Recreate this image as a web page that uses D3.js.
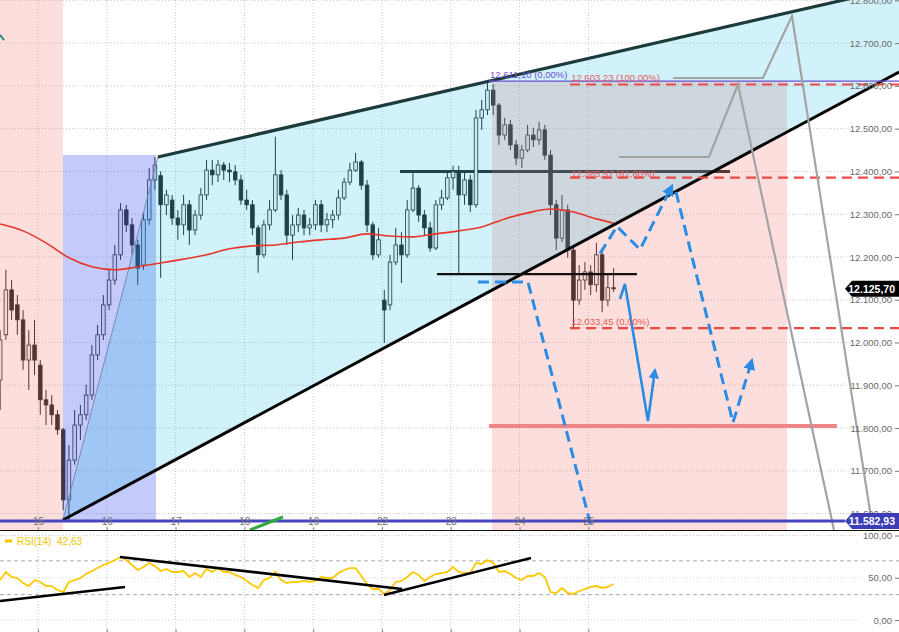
<!DOCTYPE html>
<html><head><meta charset="utf-8">
<script src="https://cdn.jsdelivr.net/npm/d3@7"></script>
<style>
body{margin:0;background:#fff;}
svg{display:block;font-family:"Liberation Sans",Arial,sans-serif;}
</style>
</head><body>
<svg id="c" width="899" height="632"></svg>
<script>
// ---------------- DATA ----------------
const dayLabels = ["15","16","17","18","19","22","23","24","25"];
const barStart = -0.55, barsPerDay = 12;
const open = [11912,12018,12123,12088,12053,11959,11994,11947,11866,11854,
11831,11796,11632,11725,11807,11831,11877,11971,12018,12088,
12146,12205,12310,12275,12228,12181,12287,12380,12390,12322,
12333,12291,12275,12322,12263,12298,12345,12403,12392,12415,
12403,12399,12380,12333,12322,12268,12205,12275,12310,12392,
12345,12251,12275,12298,12268,12275,12322,12275,12287,12298,
12338,12375,12403,12422,12368,12275,12205,12099,12088,12188,
12228,12205,12310,12361,12298,12268,12221,12322,12338,12385,
12399,12345,12380,12322,12525,12544,12590,12555,12485,12509,
12462,12431,12450,12485,12474,12497,12438,12322,12244,12310,
12216,12099,12146,12165,12135,12205,12099,12128];
const high = [12029,12170,12146,12111,12076,12029,12053,11959,11889,11877,
11842,11800,11760,11842,11854,11901,11994,12041,12111,12170,
12228,12326,12322,12291,12240,12303,12408,12434,12400,12357,
12345,12310,12345,12333,12310,12361,12427,12427,12427,12422,
12420,12415,12392,12357,12333,12275,12287,12333,12481,12403,
12357,12298,12315,12310,12291,12333,12333,12303,12310,12357,
12385,12420,12443,12427,12380,12282,12268,12123,12205,12268,
12258,12333,12396,12368,12310,12282,12333,12357,12403,12413,
12413,12399,12392,12544,12567,12611.1,12604,12560,12525,12520,
12474,12462,12509,12502,12516,12509,12450,12333,12345,12322,
12221,12181,12188,12181,12233,12212,12158,12174];
const low = [11842,12006,12053,12018,11936,11889,11924,11831,11807,11807,
11784,11608,11582.93,11714,11772,11819,11866,11959,12006,12076,
12135,12193,12258,12205,12135,12170,12275,12357,12151,12298,
12275,12240,12251,12228,12251,12287,12333,12368,12375,12380,
12375,12368,12322,12310,12251,12163,12198,12263,12305,12333,
12228,12193,12258,12251,12251,12263,12258,12258,12268,12287,
12333,12368,12399,12357,12258,12193,12198,11999,12076,12181,
12139,12198,12305,12282,12251,12212,12216,12310,12333,12357,
12160,12322,12305,12315,12497,12532,12532,12462,12474,12450,
12415,12408,12445,12457,12462,12427,12298,12216,12235,12198,
12033.45,12088,12123,12111,12118,12071,12085,12118];
const close = [12006,12123,12076,12053,11959,11994,11959,11866,11854,11831,
11796,11632,11725,11807,11831,11877,11971,12018,12088,12146,
12205,12310,12275,12228,12174,12287,12380,12415,12322,12345,
12291,12275,12322,12263,12298,12345,12403,12392,12415,12403,
12399,12380,12333,12322,12268,12205,12275,12310,12392,12345,
12251,12275,12298,12268,12275,12322,12275,12287,12298,12338,
12375,12403,12422,12368,12275,12205,12240,12076,12188,12228,
12205,12310,12361,12298,12268,12221,12322,12338,12385,12399,
12345,12380,12322,12525,12544,12590,12555,12485,12509,12462,
12431,12450,12485,12474,12497,12438,12322,12244,12310,12216,
12099,12146,12165,12135,12205,12099,12128,12125.7];
const maBars = [0,4,8,12,16,20,24,28,32,36,40,44,48,52,56,60,64,68,72,76,80,84,88,92,96,100,104,107];
const maValues = [12277,12261,12233,12198,12177,12170,12177,12186,12195,12205,12219,12226,12228,12235,12240,12244,12254,12249,12247,12254,12261,12270,12289,12303,12312,12305,12289,12279];
const rsiValues = [47.3,56.8,50.9,49.7,43.8,40.2,47.3,45,40.2,40.2,
35.5,33.1,45,47.3,49.7,54.4,58,61.5,65.1,67.5,
71,74.6,71,65.1,59.2,62.7,67.5,63.9,58,60.4,
56.8,56.8,58,50.9,55.6,50.9,60.4,56.8,61.5,56.8,
56.8,53.3,50.9,46.2,41.4,37.9,47.3,49.7,56.8,47.3,
43.8,45,45,46.2,45,46.2,50.9,49.7,49.7,55.6,
59.2,61.5,61.5,52.1,42.6,36.7,36.7,30.8,35.5,45,
46.2,50.9,56.8,53.3,46.2,50.9,54.4,55.6,56.8,62.7,
56.8,55.6,55.6,67.5,66.3,71,67.5,56.8,58,54.4,
49.7,47.3,52.1,52.1,55.6,50.9,33.1,31.9,37.9,31.9,
30.8,34.3,36.7,39.1,40.2,37.9,39.1,42.63];
const priceTicks = [11600,11700,11800,11900,12000,12100,12200,12300,12400,12500,12600,12700,12800];
const rsiTicks = [0,50,100];
const rsiBands = [30,70];
const lastPrice = 12125.70;
const supportLevel = 11582.93;
const fibHigh = 12611.10;
const fibLevels = [12603.23, 12385.57, 12033.45];
const fibTexts = ["12.603,23 (100,00%)", "12.385,57 (61,80%)", "12.033,45 (0,00%)"];
const fibHighText = "12.611,10 (0,00%)";
const targetLevel = 11805;
const resist1 = 12400, resist2 = 12160;
// drawing anchors: [day index, price]
const wedgeUpper = [[1.744,12433.7],[12.515,12830.5]];
const wedgeLower = [[0.363,11585],[12.515,12632.5]];
const rangeBox = {t0:0.363, t1:1.715, p0:11582.93, p1:12438.4};
const leftZone = {t0:-0.552, t1:0.363};
const fibZone = {t0:6.599, t1:10.887, p1:12611.1};
const greyA = [[8.445,12433.7],[9.753,12433.7],[10.174,12603],[11.57,11561.7]];
const greyB = [[9.23,12618.4],[10.538,12618.4],[10.959,12763.4],[12.137,11561.7]];
const blueDash1 = [[6.395,12141.5],[7.122,12141.5],[8.052,11561.7]];
const blueDash2 = [[8.169,12208.1],[8.416,12271.3],[8.75,12217.5],[9.215,12366]];
const blueDash3 = [[9.273,12352],[10.102,11812.8],[10.378,11959]];
const blueSolid = [[8.459,12101.7],[8.532,12136.8],[8.866,11816.5],[8.968,11935.7]];
const greenMark = [[3.081,11561.7],[3.561,11592]];
const tealMark = [[-0.552,12719],[-0.494,12707]];
const rsiTrend1 = [[-0.552,22.5],[1.265,39.1]];
const rsiTrend2 = [[1.192,74.6],[5.291,36.7]];
const rsiTrend3 = [[5.029,29.6],[7.166,73.4]];

// ---------------- SETUP ----------------
const svg = d3.select("#c");
const x = d3.scaleLinear().domain([-0.552, 12.515]).range([0, 899]);
const y = d3.scaleLinear().domain([11561.6, 12800.8]).range([530, 0]);
const yr = d3.scaleLinear().domain([0, 100]).range([620, 535.5]);
const loc = d3.formatLocale({decimal:",", thousands:".", grouping:[3], currency:["",""]});
const fmt = loc.format(",.2f");
const barT = k => barStart + k / barsPerDay;
const line = d3.line().x(d => x(d[0])).y(d => y(d[1]));
const rline = d3.line().x(d => x(d[0])).y(d => yr(d[1]));
const dayIdx = d3.range(dayLabels.length);

const defs = svg.append("defs");
defs.append("clipPath").attr("id","cm").append("rect").attr("x",0).attr("y",0).attr("width",899).attr("height",530);
defs.append("clipPath").attr("id","cr").append("rect").attr("x",0).attr("y",531).attr("width",899).attr("height",101);
defs.append("marker").attr("id","arr").attr("viewBox","0 0 10 10").attr("refX",8).attr("refY",5)
  .attr("markerWidth",4).attr("markerHeight",4).attr("orient","auto")
  .append("path").attr("d","M0,0L10,5L0,10z").attr("fill","#2b8ce6");

svg.append("rect").attr("width",899).attr("height",632).attr("fill","#fff");
const g = svg.append("g").attr("clip-path","url(#cm)");

// grid
g.selectAll(".hg").data(priceTicks).join("line")
  .attr("x1",0).attr("x2",852).attr("y1",d=>y(d)).attr("y2",d=>y(d))
  .attr("stroke","#c4c4c4").attr("stroke-dasharray","1,2");
g.selectAll(".vg").data(dayIdx).join("line")
  .attr("x1",d=>x(d)).attr("x2",d=>x(d)).attr("y1",0).attr("y2",530)
  .attr("stroke","#c8c8c8").attr("stroke-dasharray","1,2");

// resistance line under overlays
g.append("path").attr("d", line([[5.262,resist1],[10.058,resist1]])).attr("stroke","#2a2a2a").attr("stroke-width",3).attr("fill","none");

// candles
const bars = d3.range(open.length);
g.selectAll(".wick").data(bars).join("line")
  .attr("x1",k=>x(barT(k))).attr("x2",k=>x(barT(k)))
  .attr("y1",k=>y(high[k])).attr("y2",k=>y(low[k]))
  .attr("stroke","#262626").attr("stroke-width",1);
g.selectAll(".body").data(bars).join("rect")
  .attr("x",k=>x(barT(k))-1.8).attr("width",3.6)
  .attr("y",k=>y(Math.max(open[k],close[k])))
  .attr("height",k=>Math.max(1,Math.abs(y(open[k])-y(close[k]))))
  .attr("fill",k=>close[k]>=open[k]?"#f4f4f4":"#262626")
  .attr("stroke","#262626").attr("stroke-width",0.8);

// overlays
g.append("rect").attr("x",x(leftZone.t0)).attr("y",0).attr("width",x(leftZone.t1)-x(leftZone.t0)).attr("height",530)
  .attr("fill","rgba(240,110,100,0.22)");
g.append("rect").attr("x",x(rangeBox.t0)).attr("y",y(rangeBox.p1)).attr("width",x(rangeBox.t1)-x(rangeBox.t0))
  .attr("height",y(rangeBox.p0)-y(rangeBox.p1)).attr("fill","rgba(70,90,240,0.32)");
g.append("rect").attr("x",x(fibZone.t0)).attr("y",y(fibZone.p1)).attr("width",x(fibZone.t1)-x(fibZone.t0))
  .attr("height",530-y(fibZone.p1)).attr("fill","rgba(240,110,100,0.22)");
g.append("path").attr("d", line([wedgeLower[0], wedgeUpper[0], wedgeUpper[1], wedgeLower[1]]) + "Z")
  .attr("fill","rgba(0,185,225,0.18)");
g.append("path").attr("d", line([wedgeLower[0], wedgeUpper[0]])).attr("stroke","#7a86b0").attr("stroke-width",1).attr("fill","none");

// MA
g.append("path").attr("d", d3.line().curve(d3.curveMonotoneX).x((d,i)=>x(barT(maBars[i]))).y(d=>y(d))(maValues))
  .attr("fill","none").attr("stroke","#e8352a").attr("stroke-width",1.6);

// wedge lines
g.append("path").attr("d", line(wedgeUpper)).attr("stroke","#1d3b3b").attr("stroke-width",3.2).attr("fill","none");
g.append("path").attr("d", line(wedgeLower)).attr("stroke","#050505").attr("stroke-width",3).attr("fill","none");

// fib lines
g.append("path").attr("d", line([[6.555,fibHigh],[12.515,fibHigh]])).attr("stroke","#6a4fd0").attr("stroke-width",1.2).attr("fill","none");
g.selectAll(".fib").data(fibLevels).join("path")
  .attr("d", d=>line([[7.733,d],[12.515,d]])).attr("stroke","#ec4a44").attr("stroke-width",2.2)
  .attr("stroke-dasharray","10,6").attr("fill","none");

// support 2
g.append("path").attr("d", line([[5.799,resist2],[8.706,resist2]])).attr("stroke","#111").attr("stroke-width",2.2).attr("fill","none");

// target line
g.append("path").attr("d", line([[6.555,targetLevel],[11.613,targetLevel]])).attr("stroke","#f08585").attr("stroke-width",4).attr("fill","none");

// grey projections
[greyA, greyB].forEach(p => g.append("path").attr("d", line(p)).attr("stroke","#a4a4a4").attr("stroke-width",2.2).attr("fill","none"));

// blue paths
[blueDash1].forEach(p => g.append("path").attr("d", line(p)).attr("stroke","#2b8ce6").attr("stroke-width",3)
  .attr("stroke-dasharray","11,6").attr("fill","none"));
[blueDash2, blueDash3].forEach(p => g.append("path").attr("d", line(p)).attr("stroke","#2b8ce6").attr("stroke-width",3)
  .attr("stroke-dasharray","11,6").attr("fill","none").attr("marker-end","url(#arr)"));
g.append("path").attr("d", line(blueSolid)).attr("stroke","#2b8ce6").attr("stroke-width",2.6).attr("fill","none").attr("marker-end","url(#arr)");

// support level line
g.append("path").attr("d", line([[-0.552,supportLevel],[11.73,supportLevel]])).attr("stroke","#4646c0").attr("stroke-width",3).attr("fill","none");
g.append("path").attr("d", line(greenMark)).attr("stroke","#2faa3a").attr("stroke-width",3).attr("fill","none");
g.append("path").attr("d", line(tealMark)).attr("stroke","#2a8a8a").attr("stroke-width",2).attr("fill","none");

// fib labels
g.append("text").attr("x",x(6.57)).attr("y",y(fibHigh)-3).text(fibHighText)
  .attr("font-size",9.5).attr("fill","#6a4fd0");
g.selectAll(".fibt").data(fibLevels).join("text")
  .attr("x",x(7.75)).attr("y",(d,i)=>y(d)-[3,1,3][i]).text((d,i)=>fibTexts[i])
  .attr("font-size",9.5).attr("fill","#e85a5a");

// price axis
const ya = svg.append("g").attr("transform","translate(899,0)")
  .call(d3.axisLeft(y).tickValues(priceTicks).tickFormat(fmt).tickSize(4).tickPadding(3));
ya.select(".domain").remove();
ya.selectAll("text").attr("font-size",9.5).attr("fill","#6a6a6a").attr("font-family","Liberation Sans, Arial, sans-serif");
ya.selectAll("line").attr("stroke","#777");

// price boxes
function tag(price, fill, label){
  const yy = y(price);
  svg.append("path").attr("d",`M845,${yy}L852,${yy-8}L899,${yy-8}L899,${yy+8}L852,${yy+8}Z`).attr("fill",fill);
  svg.append("text").attr("x",895).attr("y",yy+4).attr("text-anchor","end").text(label)
    .attr("font-size",10.5).attr("font-weight","bold").attr("fill","#fff");
}
tag(lastPrice, "#000", fmt(lastPrice));
tag(supportLevel, "#3d3db8", fmt(supportLevel));

// x axis
const xa = svg.append("g").attr("transform","translate(0,531)")
  .call(d3.axisTop(x).tickValues(dayIdx).tickFormat(i=>dayLabels[i]).tickSize(4).tickPadding(2));
xa.select(".domain").remove();
xa.selectAll("text").attr("font-size",10).attr("fill","#707070").attr("font-family","Liberation Sans, Arial, sans-serif");
xa.selectAll("line").attr("stroke","#888");

// panel separator
svg.append("line").attr("x1",0).attr("x2",899).attr("y1",530.5).attr("y2",530.5).attr("stroke","#111").attr("stroke-width",1.2);

// ---------------- RSI ----------------
const gr = svg.append("g").attr("clip-path","url(#cr)");
gr.selectAll(".rvg").data(dayIdx).join("line")
  .attr("x1",d=>x(d)).attr("x2",d=>x(d)).attr("y1",532).attr("y2",632)
  .attr("stroke","#c8c8c8").attr("stroke-dasharray","1,2");
gr.selectAll(".rhg").data(rsiTicks).join("line")
  .attr("x1",0).attr("x2",860).attr("y1",d=>yr(d)).attr("y2",d=>yr(d))
  .attr("stroke","#cfcfcf").attr("stroke-dasharray","1,2");
gr.selectAll(".rb").data(rsiBands).join("line")
  .attr("x1",0).attr("x2",899).attr("y1",d=>yr(d)).attr("y2",d=>yr(d))
  .attr("stroke","#a8a8a8").attr("stroke-dasharray","4,3");
gr.append("path").attr("d", d3.line().x((d,i)=>x(barT(i))).y(d=>yr(d))(rsiValues))
  .attr("fill","none").attr("stroke","#ffc800").attr("stroke-width",1.8);
[rsiTrend1, rsiTrend2, rsiTrend3].forEach(p => gr.append("path").attr("d", rline(p))
  .attr("stroke","#000").attr("stroke-width",2.6).attr("fill","none"));

const ra = svg.append("g").attr("transform","translate(899,0)")
  .call(d3.axisLeft(yr).tickValues(rsiTicks).tickFormat(fmt).tickSize(4).tickPadding(3));
ra.select(".domain").remove();
ra.selectAll("text").attr("font-size",9.5).attr("fill","#6a6a6a").attr("font-family","Liberation Sans, Arial, sans-serif");
ra.selectAll("line").attr("stroke","#777");
const xb = svg.append("g").attr("transform","translate(0,632)")
  .call(d3.axisTop(x).tickValues(dayIdx).tickFormat("").tickSize(3));
xb.select(".domain").remove();
xb.selectAll("line").attr("stroke","#888");

svg.append("rect").attr("x",5).attr("y",539.5).attr("width",7).attr("height",3).attr("fill","#f5c400");
svg.append("text").attr("x",17).attr("y",545).text("RSI(14)  " + loc.format(",.2f")(rsiValues[rsiValues.length-1]))
  .attr("font-size",10).attr("fill","#f5c400").attr("xml:space","preserve");
</script>
</body></html>
